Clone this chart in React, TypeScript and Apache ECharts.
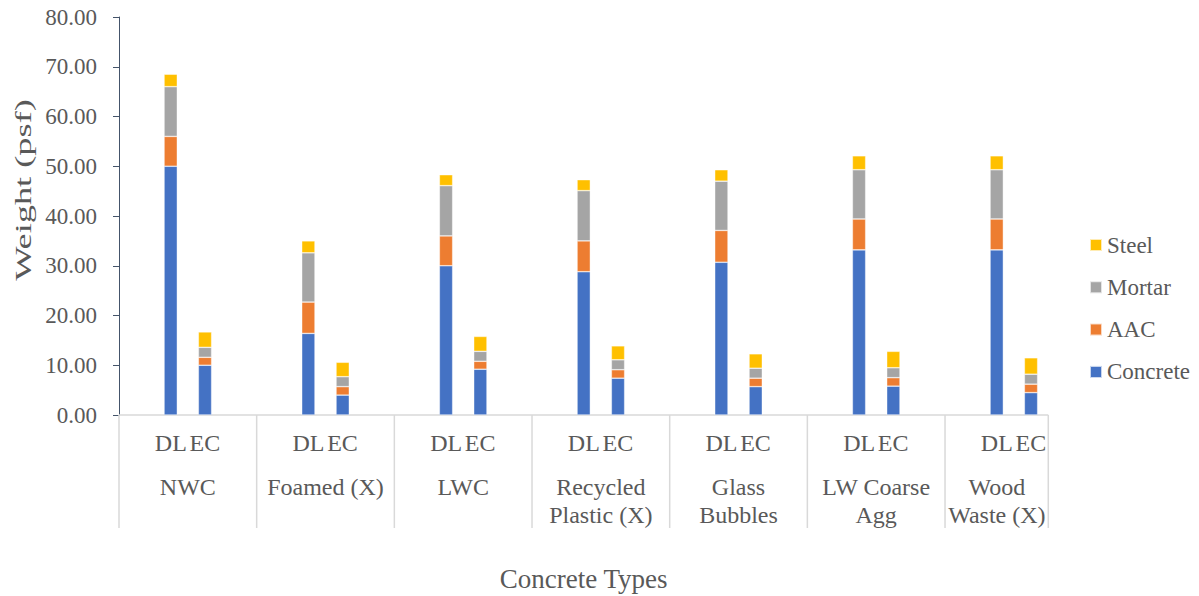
import React, { useEffect, useRef } from "react";
import * as echarts from "echarts";

// Concrete types along the category axis (a "\n" breaks the label onto a second line)
const categories = [
  "NWC",
  "Foamed (X)",
  "LWC",
  "Recycled\nPlastic (X)",
  "Glass\nBubbles",
  "LW Coarse\nAgg",
  "Wood\nWaste (X)",
];

// Weights in psf, DL bar of each concrete type
const concreteDL = [50.0, 16.4, 30.0, 28.8, 30.7, 33.2, 33.2];
const aacDL = [6.0, 6.3, 6.0, 6.2, 6.4, 6.2, 6.2];
const mortarDL = [10.0, 9.9, 10.1, 10.1, 9.9, 9.9, 9.9];
const steelDL = [2.5, 2.4, 2.2, 2.2, 2.3, 2.8, 2.8];

// Weights in psf, EC bar of each concrete type
const concreteEC = [10.0, 4.0, 9.2, 7.4, 5.7, 5.8, 4.5];
const aacEC = [1.6, 1.7, 1.6, 1.7, 1.7, 1.7, 1.7];
const mortarEC = [2.0, 2.0, 2.0, 2.0, 2.0, 2.0, 2.0];
const steelEC = [3.1, 2.9, 3.0, 2.8, 2.9, 3.3, 3.3];

const barTags = ["DL", "EC"];
const yTicks = { min: 0, max: 80, interval: 10 };

const FONT = "Liberation Serif";
const TEXT = "#595959";
const GRID_LINE = "#d9d9d9";

const COLORS = {
  Concrete: "#4472c4",
  AAC: "#ed7d31",
  Mortar: "#a5a5a5",
  Steel: "#ffc000",
};

// The category axis stops three quarters of the way into the last group
const AXIS_END = categories.length - 0.25;

const GRID = { left: 119, top: 17, width: 963.7, height: 398 };

export default function App() {
  const ref = useRef<HTMLDivElement>(null);

  useEffect(() => {
    if (!ref.current) return;
    const chart = echarts.init(ref.current, null, { renderer: "svg" });

    const layers: [string, number[], number[]][] = [
      ["Concrete", concreteDL, concreteEC],
      ["AAC", aacDL, aacEC],
      ["Mortar", mortarDL, mortarEC],
      ["Steel", steelDL, steelEC],
    ];

    const series: any[] = [];
    layers.forEach(([name, dl, ec]) => {
      [dl, ec].forEach((data, k) => {
        series.push({
          name,
          type: "bar",
          stack: barTags[k],
          data,
          barWidth: 13.3,
          barGap: "158%",
          itemStyle: {
            color: (COLORS as any)[name],
            borderColor: "rgba(255,255,255,0.7)",
            borderWidth: 0.6,
          },
        });
      });
    });

    const labelStyle = { fontSize: 24, lineHeight: 28, fontFamily: FONT, color: TEXT };

    chart.setOption({
      animation: false,
      textStyle: { fontFamily: FONT },
      grid: { ...GRID, containLabel: false, outerBoundsMode: "none" },
      legend: {
        orient: "vertical",
        left: 1089,
        top: 233,
        padding: 0,
        data: ["Steel", "Mortar", "AAC", "Concrete"],
        icon: "rect",
        itemWidth: 12,
        itemHeight: 12,
        itemGap: 18.3,
        selectedMode: false,
        textStyle: { fontSize: 23, lineHeight: 24, color: TEXT, fontFamily: FONT },
      },
      xAxis: {
        type: "category",
        data: categories,
        axisLine: { show: false },
        axisTick: { show: false },
        axisLabel: {
          interval: 0,
          margin: 14,
          color: TEXT,
          fontFamily: FONT,
          fontSize: 24,
          formatter: (value: string, index: number) => {
            const tag = index === categories.length - 1 ? "cl" : "c";
            const lines = value.split("\n").map((l) => `{${tag}|${l}}`);
            return [`{d|${barTags[0]}}{d|${barTags[1]}}`, "{s| }", ...lines].join("\n");
          },
          rich: {
            d: { ...labelStyle, width: 34, align: "center" },
            s: { fontSize: 4, lineHeight: 16, fontFamily: FONT },
            c: { ...labelStyle },
            cl: { ...labelStyle, padding: [0, 34, 0, 0] },
          },
        },
      },
      yAxis: {
        type: "value",
        ...yTicks,
        axisLine: { show: true, lineStyle: { color: "#44546a", width: 1 } },
        axisTick: { show: true, length: 6, lineStyle: { color: "#44546a" } },
        splitLine: { show: false },
        axisLabel: {
          margin: 22,
          fontSize: 23,
          color: TEXT,
          fontFamily: FONT,
          formatter: (v: number) => v.toFixed(2),
        },
      },
      series,
    });

    // Axis line, group separators and axis titles, placed from the axis scale
    const c0 = chart.convertToPixel({ xAxisIndex: 0 }, 0) as number;
    const c1 = chart.convertToPixel({ xAxisIndex: 0 }, 1) as number;
    const band = c1 - c0;
    const start = c0 - band / 2;
    const end = start + band * AXIS_END;
    const baseY = chart.convertToPixel({ yAxisIndex: 0 }, 0) as number;

    const elements: any[] = [
      {
        type: "line",
        shape: { x1: start, y1: baseY, x2: end, y2: baseY },
        style: { stroke: GRID_LINE, lineWidth: 1.5 },
        z: 1,
      },
    ];
    const bounds: number[] = [];
    for (let i = 0; i < categories.length; i++) bounds.push(start + band * i);
    bounds.push(end);
    bounds.forEach((x) => {
      elements.push({
        type: "line",
        shape: { x1: x, y1: baseY, x2: x, y2: baseY + 113 },
        style: { stroke: GRID_LINE, lineWidth: 1.5 },
        z: 1,
      });
    });
    elements.push({
      type: "text",
      x: (start + end) / 2,
      y: 579,
      style: {
        text: "Concrete Types",
        fontSize: 27,
        fontFamily: FONT,
        fill: TEXT,
        textAlign: "center",
        textVerticalAlign: "middle",
      },
    });
    // Vertical axis title, drawn stretched along its length
    elements.push({
      type: "text",
      x: 23,
      y: 190,
      rotation: Math.PI / 2,
      scaleX: 1.58,
      scaleY: 1,
      style: {
        text: "Weight (psf)",
        fontSize: 23,
        fontFamily: FONT,
        fill: TEXT,
        textAlign: "center",
        textVerticalAlign: "middle",
      },
    });

    chart.setOption({ graphic: { elements } });

    return () => chart.dispose();
  }, []);

  return (
    <div
      ref={ref}
      style={{ position: "fixed", left: 0, top: 0, width: 1199, height: 596, background: "#fff" }}
    />
  );
}
